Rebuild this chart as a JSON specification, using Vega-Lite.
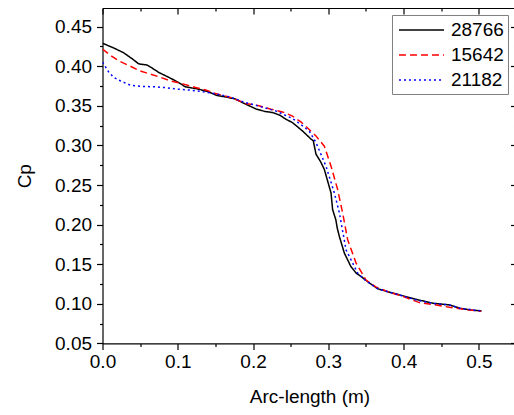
{
  "$schema": "https://vega.github.io/schema/vega-lite/v6.json",
  "autosize": {"type": "none"},
  "padding": {"left": 102.5, "top": 8, "right": 0, "bottom": 72},
  "width": 414,
  "height": 335.4,
  "background": "white",
  "config": {
    "view": {"stroke": null},
    "font": "Liberation Sans",
    "axis": {"grid": false, "domainColor": "black", "tickColor": "black", "labelColor": "black", "titleColor": "black", "labelFont": "Liberation Sans", "titleFont": "Liberation Sans", "labelFontSize": 19, "titleFontSize": 19, "titleFontWeight": "normal", "domainWidth": 1.2, "tickWidth": 1.2, "labelFlush": false}
  },
  "data": {"values": [
    {"s": "28766", "x": 0, "cp": 0.429},
    {"s": "28766", "x": 0.015, "cp": 0.423},
    {"s": "28766", "x": 0.028, "cp": 0.417},
    {"s": "28766", "x": 0.040, "cp": 0.409},
    {"s": "28766", "x": 0.048, "cp": 0.403},
    {"s": "28766", "x": 0.059, "cp": 0.4015},
    {"s": "28766", "x": 0.067, "cp": 0.397},
    {"s": "28766", "x": 0.075, "cp": 0.392},
    {"s": "28766", "x": 0.088, "cp": 0.386},
    {"s": "28766", "x": 0.100, "cp": 0.380},
    {"s": "28766", "x": 0.110, "cp": 0.374},
    {"s": "28766", "x": 0.128, "cp": 0.371},
    {"s": "28766", "x": 0.140, "cp": 0.368},
    {"s": "28766", "x": 0.152, "cp": 0.363},
    {"s": "28766", "x": 0.165, "cp": 0.361},
    {"s": "28766", "x": 0.177, "cp": 0.3584},
    {"s": "28766", "x": 0.186, "cp": 0.354},
    {"s": "28766", "x": 0.195, "cp": 0.350},
    {"s": "28766", "x": 0.204, "cp": 0.346},
    {"s": "28766", "x": 0.215, "cp": 0.343},
    {"s": "28766", "x": 0.226, "cp": 0.3415},
    {"s": "28766", "x": 0.236, "cp": 0.338},
    {"s": "28766", "x": 0.2436, "cp": 0.333},
    {"s": "28766", "x": 0.252, "cp": 0.329},
    {"s": "28766", "x": 0.255, "cp": 0.3267},
    {"s": "28766", "x": 0.266, "cp": 0.318},
    {"s": "28766", "x": 0.277, "cp": 0.308},
    {"s": "28766", "x": 0.280, "cp": 0.306},
    {"s": "28766", "x": 0.2836, "cp": 0.289},
    {"s": "28766", "x": 0.290, "cp": 0.279},
    {"s": "28766", "x": 0.2947, "cp": 0.2697},
    {"s": "28766", "x": 0.300, "cp": 0.252},
    {"s": "28766", "x": 0.3036, "cp": 0.240},
    {"s": "28766", "x": 0.3057, "cp": 0.219},
    {"s": "28766", "x": 0.310, "cp": 0.206},
    {"s": "28766", "x": 0.312, "cp": 0.195},
    {"s": "28766", "x": 0.3147, "cp": 0.185},
    {"s": "28766", "x": 0.3213, "cp": 0.164},
    {"s": "28766", "x": 0.330, "cp": 0.147},
    {"s": "28766", "x": 0.337, "cp": 0.1387},
    {"s": "28766", "x": 0.3436, "cp": 0.1344},
    {"s": "28766", "x": 0.355, "cp": 0.126},
    {"s": "28766", "x": 0.3657, "cp": 0.119},
    {"s": "28766", "x": 0.380, "cp": 0.115},
    {"s": "28766", "x": 0.3947, "cp": 0.1112},
    {"s": "28766", "x": 0.415, "cp": 0.106},
    {"s": "28766", "x": 0.439, "cp": 0.1007},
    {"s": "28766", "x": 0.4613, "cp": 0.0985},
    {"s": "28766", "x": 0.4747, "cp": 0.0944},
    {"s": "28766", "x": 0.490, "cp": 0.092},
    {"s": "28766", "x": 0.5036, "cp": 0.091},
    {"s": "15642", "x": 0, "cp": 0.4217},
    {"s": "15642", "x": 0.008, "cp": 0.4155},
    {"s": "15642", "x": 0.021, "cp": 0.407},
    {"s": "15642", "x": 0.037, "cp": 0.400},
    {"s": "15642", "x": 0.050, "cp": 0.394},
    {"s": "15642", "x": 0.0636, "cp": 0.390},
    {"s": "15642", "x": 0.077, "cp": 0.386},
    {"s": "15642", "x": 0.090, "cp": 0.3816},
    {"s": "15642", "x": 0.108, "cp": 0.3774},
    {"s": "15642", "x": 0.1236, "cp": 0.373},
    {"s": "15642", "x": 0.137, "cp": 0.370},
    {"s": "15642", "x": 0.150, "cp": 0.3656},
    {"s": "15642", "x": 0.170, "cp": 0.3606},
    {"s": "15642", "x": 0.190, "cp": 0.353},
    {"s": "15642", "x": 0.208, "cp": 0.350},
    {"s": "15642", "x": 0.2236, "cp": 0.3457},
    {"s": "15642", "x": 0.239, "cp": 0.3423},
    {"s": "15642", "x": 0.2524, "cp": 0.337},
    {"s": "15642", "x": 0.2636, "cp": 0.3296},
    {"s": "15642", "x": 0.2747, "cp": 0.320},
    {"s": "15642", "x": 0.2836, "cp": 0.312},
    {"s": "15642", "x": 0.2947, "cp": 0.299},
    {"s": "15642", "x": 0.3036, "cp": 0.2738},
    {"s": "15642", "x": 0.3124, "cp": 0.2443},
    {"s": "15642", "x": 0.319, "cp": 0.2148},
    {"s": "15642", "x": 0.3257, "cp": 0.181},
    {"s": "15642", "x": 0.3369, "cp": 0.1514},
    {"s": "15642", "x": 0.350, "cp": 0.130},
    {"s": "15642", "x": 0.3636, "cp": 0.121},
    {"s": "15642", "x": 0.380, "cp": 0.115},
    {"s": "15642", "x": 0.400, "cp": 0.109},
    {"s": "15642", "x": 0.421, "cp": 0.1015},
    {"s": "15642", "x": 0.440, "cp": 0.099},
    {"s": "15642", "x": 0.461, "cp": 0.0956},
    {"s": "15642", "x": 0.480, "cp": 0.093},
    {"s": "15642", "x": 0.503, "cp": 0.0905},
    {"s": "21182", "x": 0, "cp": 0.405},
    {"s": "21182", "x": 0.008, "cp": 0.393},
    {"s": "21182", "x": 0.0147, "cp": 0.386},
    {"s": "21182", "x": 0.0236, "cp": 0.3816},
    {"s": "21182", "x": 0.037, "cp": 0.376},
    {"s": "21182", "x": 0.0524, "cp": 0.3745},
    {"s": "21182", "x": 0.070, "cp": 0.374},
    {"s": "21182", "x": 0.0836, "cp": 0.373},
    {"s": "21182", "x": 0.099, "cp": 0.371},
    {"s": "21182", "x": 0.117, "cp": 0.3698},
    {"s": "21182", "x": 0.1347, "cp": 0.3676},
    {"s": "21182", "x": 0.1524, "cp": 0.3647},
    {"s": "21182", "x": 0.170, "cp": 0.361},
    {"s": "21182", "x": 0.190, "cp": 0.354},
    {"s": "21182", "x": 0.210, "cp": 0.349},
    {"s": "21182", "x": 0.230, "cp": 0.3436},
    {"s": "21182", "x": 0.2524, "cp": 0.334},
    {"s": "21182", "x": 0.266, "cp": 0.3245},
    {"s": "21182", "x": 0.2747, "cp": 0.318},
    {"s": "21182", "x": 0.2836, "cp": 0.3035},
    {"s": "21182", "x": 0.2969, "cp": 0.2738},
    {"s": "21182", "x": 0.308, "cp": 0.240},
    {"s": "21182", "x": 0.3147, "cp": 0.2148},
    {"s": "21182", "x": 0.3236, "cp": 0.168},
    {"s": "21182", "x": 0.339, "cp": 0.1387},
    {"s": "21182", "x": 0.350, "cp": 0.129},
    {"s": "21182", "x": 0.3657, "cp": 0.119},
    {"s": "21182", "x": 0.380, "cp": 0.115},
    {"s": "21182", "x": 0.3947, "cp": 0.111},
    {"s": "21182", "x": 0.420, "cp": 0.104},
    {"s": "21182", "x": 0.440, "cp": 0.1005},
    {"s": "21182", "x": 0.4613, "cp": 0.0985},
    {"s": "21182", "x": 0.4747, "cp": 0.0944},
    {"s": "21182", "x": 0.5036, "cp": 0.091}
  ]},
  "resolve": {"axis": {"x": "independent", "y": "independent"}},
  "layer": [
    {
      "mark": {"type": "point", "opacity": 0},
      "encoding": {
        "x": {"field": "x", "type": "quantitative", "scale": {"domain": [0, 0.55], "nice": false, "zero": false},
          "axis": {"orient": "bottom", "values": [0.05, 0.15, 0.25, 0.35, 0.45, 0.55], "tickSize": 3, "labels": false, "title": null, "domain": false}},
        "y": {"field": "cp", "type": "quantitative", "scale": {"domain": [0.05, 0.4735], "nice": false, "zero": false},
          "axis": {"orient": "left", "values": [0.075, 0.125, 0.175, 0.225, 0.275, 0.325, 0.375, 0.425], "tickSize": 3, "labels": false, "title": null, "domain": false}}
      }
    },
    {
      "mark": {"type": "point", "opacity": 0},
      "encoding": {
        "x": {"field": "x", "type": "quantitative",
          "axis": {"orient": "top", "values": [0, 0.1, 0.2, 0.3, 0.4, 0.5], "tickSize": -6, "labels": false, "title": null}},
        "y": {"field": "cp", "type": "quantitative",
          "axis": {"orient": "right", "values": [0.05, 0.1, 0.15, 0.2, 0.25, 0.3, 0.35, 0.4, 0.45], "tickSize": -6, "labels": false, "title": null}}
      }
    },
    {
      "mark": {"type": "point", "opacity": 0},
      "encoding": {
        "x": {"field": "x", "type": "quantitative",
          "axis": {"orient": "top", "values": [0.05, 0.15, 0.25, 0.35, 0.45, 0.55], "tickSize": -3, "labels": false, "title": null, "domain": false}},
        "y": {"field": "cp", "type": "quantitative",
          "axis": {"orient": "right", "values": [0.075, 0.125, 0.175, 0.225, 0.275, 0.325, 0.375, 0.425], "tickSize": -3, "labels": false, "title": null, "domain": false}}
      }
    },
    {
      "mark": {"type": "line", "strokeWidth": 1.5, "clip": true},
      "encoding": {
        "x": {"field": "x", "type": "quantitative",
          "axis": {"orient": "bottom", "values": [0, 0.1, 0.2, 0.3, 0.4, 0.5], "format": ".1f", "tickSize": 6, "labelPadding": 3, "title": "Arc-length (m)", "titlePadding": 16}},
        "y": {"field": "cp", "type": "quantitative",
          "axis": {"orient": "left", "values": [0.05, 0.1, 0.15, 0.2, 0.25, 0.3, 0.35, 0.4, 0.45], "format": ".2f", "tickSize": 6, "labelPadding": 5, "title": "Cp", "titlePadding": 20}},
        "color": {"field": "s", "type": "nominal", "scale": {"domain": ["28766", "15642", "21182"], "range": ["#000000", "#ff0000", "#0000ff"]},
          "legend": {"title": null, "orient": "none", "legendX": 289.5, "legendY": 7, "strokeColor": "#808080", "fillColor": "white", "padding": 4, "labelFontSize": 19, "labelFont": "Liberation Sans", "labelColor": "black", "symbolType": "M-0.8,0H3.7", "symbolSize": 400, "symbolStrokeWidth": 1.5, "rowPadding": 4, "labelOffset": 33}},
        "strokeDash": {"field": "s", "type": "nominal", "scale": {"domain": ["28766", "15642", "21182"], "range": [[1, 0], [7, 4], [2, 3]]}, "legend": null},
        "order": {"field": "x", "type": "quantitative"}
      }
    }
  ]
}
